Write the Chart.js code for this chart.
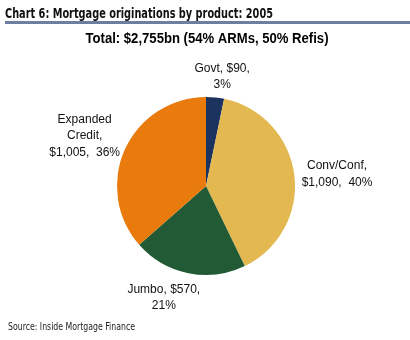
<!DOCTYPE html>
<html><head><meta charset="utf-8">
<script src="https://cdn.jsdelivr.net/npm/chart.js@4"></script>
<style>html,body{margin:0;padding:0;background:#fff}#wrap{width:410px;height:340px;position:relative}</style>
</head><body><div id="wrap"><canvas id="c" width="410" height="340"></canvas></div>
<script>
const categories = ["Govt", "Conv/Conf", "Jumbo", "Expanded Credit"];
const values = [90, 1090, 570, 1005];
const shares = [3, 40, 21, 36];
const labelLines = [
  ["Govt, $90,", "3%"],
  ["Conv/Conf,", "$1,090,  40%"],
  ["Jumbo, $570,", "21%"],
  ["Expanded", "Credit,", "$1,005,  36%"]
];
const colors = ["#1c325f", "#e3b851", "#215a35", "#e97a0c"];
const title = "Chart 6: Mortgage originations by product: 2005";
const subtitle = "Total: $2,755bn (54% ARMs, 50% Refis)";
const source = "Source: Inside Mortgage Finance";
// per-label distance beyond the outer radius and nudges (style)
const labelDist = [20, 40, 28, 42];
const labelNudge = [[5,-1],[3,4],[-19,-3],[-2,4]];

const textPlugin = {
  id: 'texts',
  afterDraw(chart) {
    const ctx = chart.ctx;
    ctx.save();
    // title
    ctx.fillStyle = '#111';
    ctx.textBaseline = 'alphabetic';
    ctx.textAlign = 'left';
    ctx.font = 'bold 14px "Liberation Sans Narrow", "DejaVu Sans Condensed", sans-serif';
    let w = ctx.measureText(title).width;
    ctx.save();
    ctx.translate(5, 18);
    ctx.scale(268 / w, 1);
    ctx.fillText(title, 0, 0);
    ctx.restore();
    // rule
    ctx.fillStyle = '#6b7f9e';
    ctx.fillRect(5, 21, 405, 3);
    // subtitle
    ctx.fillStyle = '#000';
    ctx.font = 'bold 14px "Liberation Sans", Arial, sans-serif';
    w = ctx.measureText(subtitle).width;
    ctx.save();
    ctx.translate(207, 43);
    ctx.scale(243 / w, 1);
    ctx.textAlign = 'center';
    ctx.fillText(subtitle, 0, 0);
    ctx.restore();
    // source
    ctx.fillStyle = '#222';
    ctx.font = '10px "Liberation Sans Narrow", "DejaVu Sans Condensed", sans-serif';
    w = ctx.measureText(source).width;
    ctx.save();
    ctx.translate(8, 330);
    ctx.scale(127 / w, 1);
    ctx.textAlign = 'left';
    ctx.fillText(source, 0, 0);
    ctx.restore();
    // slice labels
    const meta = chart.getDatasetMeta(0);
    ctx.font = '12px "Liberation Sans", Arial, sans-serif';
    ctx.fillStyle = '#111';
    ctx.textAlign = 'center';
    ctx.textBaseline = 'middle';
    meta.data.forEach((arc, i) => {
      const p = arc.getProps(['x','y','startAngle','endAngle','outerRadius'], true);
      const mid = (p.startAngle + p.endAngle) / 2;
      const r = p.outerRadius + labelDist[i];
      const cx = p.x + Math.cos(mid) * r + labelNudge[i][0];
      const cy = p.y + Math.sin(mid) * r + labelNudge[i][1];
      const lines = labelLines[i];
      const lh = 16.5;
      const top = cy - (lines.length - 1) * lh / 2;
      lines.forEach((t, k) => ctx.fillText(t, cx, top + k * lh));
    });
    ctx.restore();
  }
};

new Chart(document.getElementById('c'), {
  type: 'pie',
  data: {
    labels: categories,
    datasets: [{ data: values, backgroundColor: colors, borderWidth: 0 }]
  },
  options: {
    responsive: false,
    animation: false,
    layout: { padding: { top: 97, bottom: 65, left: 2, right: 0 } },
    plugins: { legend: { display: false }, tooltip: { enabled: false } }
  },
  plugins: [textPlugin]
});
</script></body></html>
